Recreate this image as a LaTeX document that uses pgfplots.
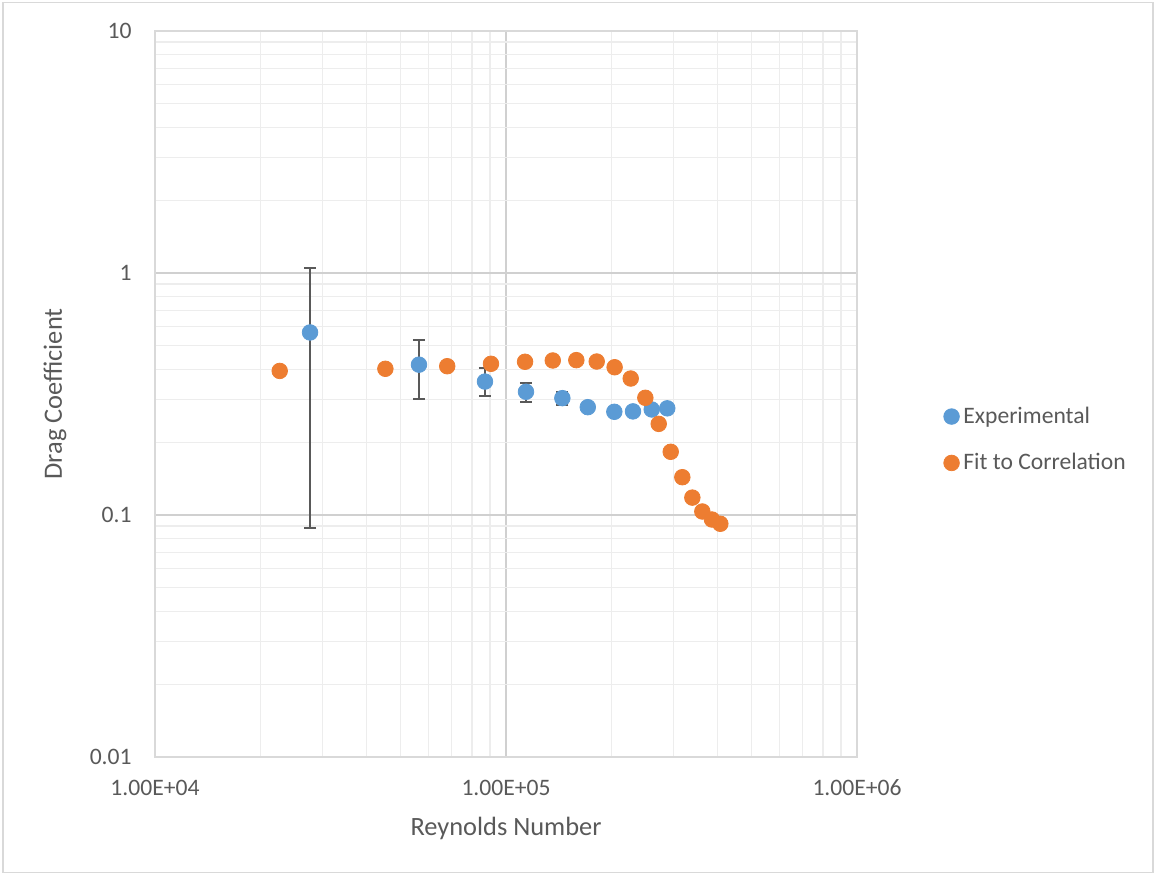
\documentclass[border=0pt]{standalone}
\usepackage{pgfplots}
\pgfplotsset{compat=1.18}
\usepackage{fontspec}
\setmainfont{Carlito}
\definecolor{expc}{HTML}{5B9BD5}
\definecolor{fitc}{HTML}{ED7D31}
\definecolor{txt}{HTML}{595959}
\definecolor{majg}{HTML}{D0D0D0}
\definecolor{ming}{HTML}{EDEDED}
\definecolor{errc}{HTML}{595959}
\definecolor{bord}{HTML}{D9D9D9}
\begin{document}
\begin{tikzpicture}
\path[use as bounding box] (0,0) rectangle (578pt,437.5pt);
\draw[bord, line width=0.6pt] (1.5pt,1.2pt) rectangle (576.5pt,436.3pt);
\begin{axis}[
 at={(77.5pt,59pt)}, anchor=south west,
 scale only axis, width=351pt, height=363pt,
 xmode=log, ymode=log,
 xmin=1e4, xmax=1e6, ymin=0.01, ymax=10,
 xtick={1e4,1e5,1e6}, xticklabels={1.00E+04,1.00E+05,1.00E+06},
 ytick={0.01,0.1,1,10}, yticklabels={0.01,0.1,1,10},
 major tick length=0pt, minor tick length=0pt,
 grid=both,
 major grid style={majg, line width=0.6pt},
 minor grid style={ming, line width=0.6pt},
 axis line style={bord, line width=0.6pt},
 tick label style={font=\fontsize{11.8}{14}\selectfont, text=txt},
 xticklabel style={anchor=center, yshift=-15.5pt},
 yticklabel style={anchor=east, inner sep=0pt, xshift=-11.5pt},
 xlabel={Reynolds Number}, ylabel={Drag Coefficient},
 label style={font=\fontsize{13.2}{16}\selectfont, text=txt},
 x label style={at={(axis description cs:0.5,-0.0978)}, anchor=center},
 y label style={at={(axis description cs:-0.1425,0.5)}, anchor=center},
 legend style={at={(axis description cs:1.123,0.437)}, anchor=west, draw=none, fill=none,
   font=\fontsize{11.8}{14}\selectfont, text=txt, row sep=9.5pt, inner sep=0pt},
 legend cell align=left,
 legend image code/.code={\draw[#1] plot coordinates {(0pt,0pt)};},
]
\addplot[only marks, mark=*, mark size=3.9pt, color=expc, mark options={fill=expc, draw=expc},
  error bars/.cd, y dir=both, y explicit,
  error bar style={errc, line width=1pt},
  error mark options={rotate=90, mark size=3pt, errc, line width=1pt}]
coordinates {
(27650,0.568) += (0,0.476) -= (0,0.4795)
(56500,0.418) += (0,0.113) -= (0,0.116)
(87100,0.356) += (0,0.048) -= (0,0.047)
(114000,0.323) += (0,0.027) -= (0,0.029)
(144700,0.304) += (0,0.019) -= (0,0.018)
(171000,0.279) += (0,0) -= (0,0)
(203500,0.267) += (0,0) -= (0,0)
(230000,0.268) += (0,0) -= (0,0)
(260100,0.273) += (0,0) -= (0,0)
(288000,0.276) += (0,0) -= (0,0)
};
\addlegendentry{Experimental}
\addplot[only marks, mark=*, mark size=3.9pt, color=fitc, mark options={fill=fitc, draw=fitc}]
coordinates {
(22660,0.394)
(45320,0.402)
(68000,0.412)
(90600,0.4215)
(113300,0.4297)
(135900,0.435)
(158600,0.4365)
(181300,0.4307)
(203900,0.408)
(226600,0.3665)
(249400,0.305)
(272300,0.238)
(294600,0.1825)
(317900,0.1433)
(339500,0.118)
(362500,0.1034)
(386300,0.0958)
(407900,0.0920)
};
\addlegendentry{Fit to Correlation}
\end{axis}
\end{tikzpicture}
\end{document}
